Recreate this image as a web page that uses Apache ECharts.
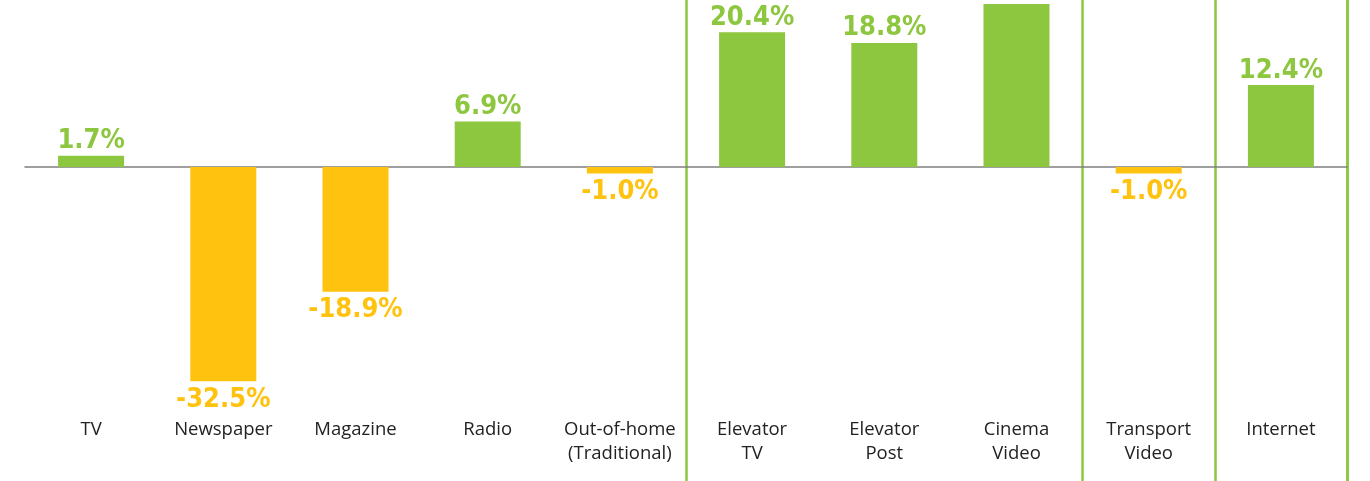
<!DOCTYPE html>
<html>
<head>
<meta charset="utf-8">
<script src="https://cdn.jsdelivr.net/npm/echarts@6/dist/echarts.min.js"></script>
<style>
html,body{margin:0;padding:0;background:#fff;}
#c{width:1370px;height:481px;}
</style>
</head>
<body>
<div id="c"></div>
<script>
// Data
var categories = ['TV', 'Newspaper', 'Magazine', 'Radio', 'Out-of-home\n(Traditional)',
  'Elevator\nTV', 'Elevator\nPost', 'Cinema\nVideo', 'Transport\nVideo', 'Internet'];
var growth = [1.7, -32.5, -18.9, 6.9, -1.0, 20.4, 18.8, 24.7, -1.0, 12.4];
var separatorsBefore = [5, 8, 9];

var GREEN = '#8DC63F', YELLOW = '#FFC20E';

var seriesData = growth.map(function (v) {
  var pos = v >= 0;
  return {
    value: v,
    itemStyle: { color: pos ? GREEN : YELLOW },
    label: { position: pos ? 'top' : 'bottom', distance: pos ? 1 : 5, color: pos ? GREEN : YELLOW }
  };
});

var chart = echarts.init(document.getElementById('c'), null, { renderer: 'canvas' });
chart.setOption({
  animation: false,
  backgroundColor: '#fff',
  grid: { left: 25, right: 23, top: 0, bottom: 0, containLabel: false },
  xAxis: [{
    type: 'category',
    data: categories,
    axisLine: { show: true, onZero: true, lineStyle: { color: '#808080', width: 1.5 } },
    axisTick: { show: false },
    axisLabel: { show: false },
    splitLine: { show: false }
  }, {
    type: 'category',
    data: categories,
    position: 'bottom',
    axisLine: { show: false, onZero: false },
    axisTick: { show: false },
    axisLabel: {
      show: true, inside: true, margin: 63, verticalAlign: 'top',
      interval: 0,
      color: '#222', fontSize: 18.5, lineHeight: 24,
      fontFamily: '"Open Sans", Lato, sans-serif'
    },
    splitLine: {
      show: true,
      interval: function (i) { return separatorsBefore.indexOf(i) >= 0; },
      lineStyle: { color: GREEN, width: 2.5 }
    }
  }],
  yAxis: {
    type: 'value',
    position: 'right',
    min: -47.6, max: 25.3,
    axisLine: { show: true, lineStyle: { color: GREEN, width: 2.5 } },
    axisTick: { show: false },
    axisLabel: { show: false },
    splitLine: { show: false }
  },
  series: [{
    type: 'bar',
    xAxisIndex: 0,
    barWidth: 66,
    data: seriesData,
    label: {
      show: true,
      fontSize: 27,
      fontWeight: 'bold',
      fontFamily: '"DejaVu Sans Condensed", "Liberation Sans Narrow", sans-serif',
      formatter: function (p) { return p.value.toFixed(1) + '%'; }
    }
  }]
});
</script>
</body>
</html>
